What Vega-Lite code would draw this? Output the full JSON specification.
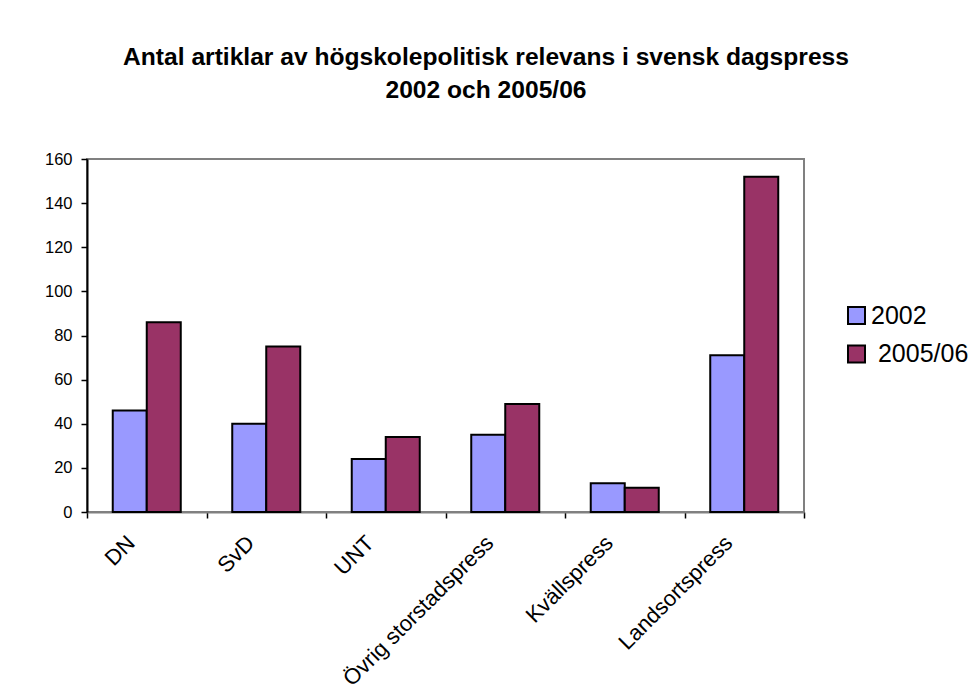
{
  "$schema": "https://vega.github.io/schema/vega-lite/v6.json",
  "width": 717,
  "height": 353,
  "padding": {"left": 44, "top": 44, "right": 5, "bottom": 5},
  "background": "white",
  "title": {
    "text": ["Antal artiklar av högskolepolitisk relevans i svensk dagspress", "2002 och 2005/06"],
    "font": "Liberation Sans",
    "fontSize": 24.6,
    "fontWeight": "bold",
    "lineHeight": 33,
    "color": "black",
    "anchor": "middle",
    "frame": "group",
    "dx": 40.5,
    "offset": 47.5
  },
  "data": {
    "values": [
      {"press": "DN", "year": "2002", "count": 46},
      {"press": "DN", "year": "2005/06", "count": 86},
      {"press": "SvD", "year": "2002", "count": 40},
      {"press": "SvD", "year": "2005/06", "count": 75},
      {"press": "UNT", "year": "2002", "count": 24},
      {"press": "UNT", "year": "2005/06", "count": 34},
      {"press": "Övrig storstadspress", "year": "2002", "count": 35},
      {"press": "Övrig storstadspress", "year": "2005/06", "count": 49},
      {"press": "Kvällspress", "year": "2002", "count": 13},
      {"press": "Kvällspress", "year": "2005/06", "count": 11},
      {"press": "Landsortspress", "year": "2002", "count": 71},
      {"press": "Landsortspress", "year": "2005/06", "count": 152}
    ]
  },
  "mark": {"type": "bar", "stroke": "black", "strokeWidth": 2},
  "encoding": {
    "x": {
      "field": "press",
      "type": "nominal",
      "sort": null,
      "scale": {"paddingInner": 0, "paddingOuter": 0},
      "axis": {
        "title": null,
        "tickBand": "extent",
        "labelAngle": -45,
        "labelFont": "Liberation Sans",
        "labelFontSize": 22,
        "labelColor": "black",
        "labelPadding": 14,
        "labelOffset": -23,
        "labelLimit": 0,
        "domainColor": "#808080",
        "domainWidth": 2,
        "tickColor": "black",
        "tickWidth": 1.5,
        "tickSize": 6,
        "grid": false
      }
    },
    "xOffset": {
      "field": "year",
      "type": "nominal",
      "scale": {"paddingInner": 0, "paddingOuter": 0.757}
    },
    "y": {
      "field": "count",
      "type": "quantitative",
      "scale": {"domain": [0, 160], "nice": false},
      "axis": {
        "title": null,
        "values": [0, 20, 40, 60, 80, 100, 120, 140, 160],
        "grid": false,
        "labelFont": "Liberation Sans",
        "labelFontSize": 16.5,
        "labelColor": "black",
        "labelPadding": 9,
        "domainColor": "black",
        "domainWidth": 2,
        "tickColor": "black",
        "tickWidth": 1.5,
        "tickSize": 6
      }
    },
    "color": {
      "field": "year",
      "type": "nominal",
      "scale": {"domain": ["2002", "2005/06"], "range": ["#9999FF", "#993366"]},
      "legend": {
        "title": null,
        "orient": "none",
        "legendX": 757,
        "legendY": 144,
        "symbolType": "square",
        "symbolSize": 289,
        "symbolStrokeColor": "black",
        "symbolStrokeWidth": 2,
        "symbolOpacity": 1,
        "labelFont": "Liberation Sans",
        "labelFontSize": 25,
        "labelColor": "black",
        "labelOffset": 2,
        "rowPadding": 12.5,
        "labelLimit": 0,
        "labelExpr": "indexof(datum.label, '/') > 0 ? '\\u200b\\u00a0' + datum.label : datum.label"
      }
    }
  },
  "config": {
    "view": {"stroke": "#808080", "strokeWidth": 2}
  }
}
